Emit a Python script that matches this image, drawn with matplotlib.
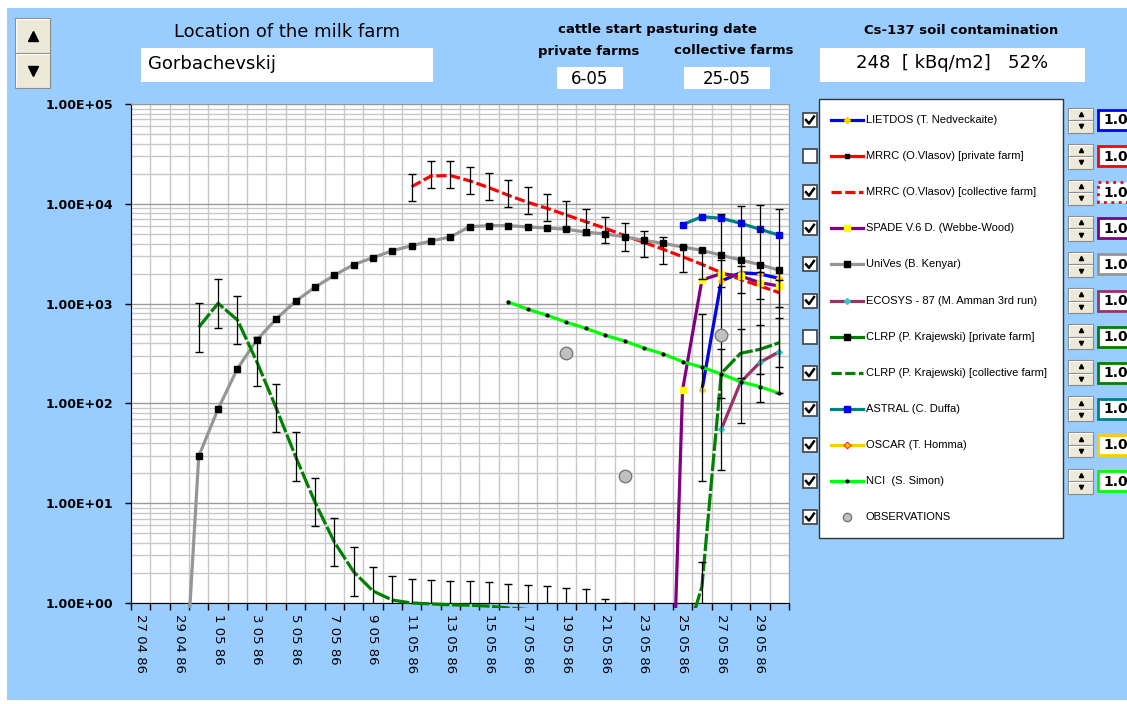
import numpy as np
import pandas as pd
import matplotlib
matplotlib.use("Agg")
import matplotlib.pyplot as plt
from matplotlib.patches import Rectangle
from matplotlib.ticker import FixedLocator, FuncFormatter, LogLocator, NullFormatter
from matplotlib.transforms import Bbox, TransformedBbox

# ---- data (category index 0 = 27 04 86, one category per day) ----
days = pd.date_range("1986-04-27", "1986-05-30")
day_labels = [f"{d.day} {d.month:02d} {d.year % 100}" for d in days]

unives_start = 2
unives = [0.015, 29.5, 88, 223, 432, 701, 1055, 1456, 1922, 2455, 2884, 3388, 3802,
          4236, 4645, 5900, 6040, 6040, 5860, 5724, 5560, 5210, 4980, 4680, 4300,
          4020, 3690, 3420, 3050, 2735, 2455, 2157]

mrrc_coll_start = 14
mrrc_coll = [14830, 19000, 19200, 17000, 14500, 12170, 10350, 9010, 7720, 6620,
             5690, 4800, 4110, 3500, 2950, 2476, 2040, 1752, 1500, 1287]
mrrc_err_lo = [10740, 14390, 14490, 12620, 10990, 9350, 7910, 6730, 5820, 4830,
               4020, 3390, 2910, 2475, 2060, 1763, 1476, 1268, 1112, 918]
mrrc_err_hi = [19900, 26850, 27040, 23550, 20510, 17340, 14730, 12540, 10670, 8870,
               7430, 6380, 5370, 4620, 3800, 3290, 2754, 2365, 2073, 1711]

clrp_coll_start = 3
clrp_coll = [579, 1007, 685, 262, 90, 29.5, 10.3, 4.1, 2.06, 1.32, 1.07, 1.0, 0.98,
             0.96, 0.95, 0.93, 0.89, 0.86, 0.84, 0.81, 0.79, 0.63, 0.57, 0.5, 0.45,
             0.33, 1.46, 200, 318, 348, 406]
clrp_err_factor = 1.75

nci_start = 19
nci = [1038, 877, 764, 650, 565, 481, 422, 359, 313, 262, 230, 197, 165, 147, 126]

astral_start = 28
astral = [6180, 7430, 7160, 6380, 5560, 4840]

lietdos_start = 29
lietdos = [136, 1683, 2040, 1980, 1790]

oscar_start = 29
oscar = [135, 1690, 2010, 2010, 1750]

spade_start = 27
spade = [0.0001, 136, 1723, 2000, 1890, 1620, 1500]

ecosys_start = 30
ecosys = [55, 163, 258, 330]

obs_days = [22, 25, 30]
obs = [320, 18.7, 484]

wide_err_days = [29, 30, 31, 32, 33]
wide_err_lo = [16.7, 21.5, 63, 103, 127]
wide_err_hi = [781, 7910, 9500, 9730, 8870]

legend_labels = ["LIETDOS (T. Nedveckaite)", "MRRC (O.Vlasov) [private farm]",
                 "MRRC (O.Vlasov) [collective farm]", "SPADE V.6 D. (Webbe-Wood)",
                 "UniVes (B. Kenyar)", "ECOSYS - 87 (M. Amman 3rd run)",
                 "CLRP (P. Krajewski) [private farm]", "CLRP (P. Krajewski) [collective farm]",
                 "ASTRAL (C. Duffa)", "OSCAR (T. Homma)", "NCI  (S. Simon)", "OBSERVATIONS"]
legend_checked = [True, False, True, True, True, True, False, True, True, True, True, True]
factor_colors = ["#0000FF", "#FF0000", "#FF0000", "#800080", "#969696", "#993366",
                 "#008000", "#008000", "#008080", "#FFCC00", "#00FF00"]

BLUE_BG = "#99CCFF"
LEG_FONT = ["Liberation Sans", "DejaVu Sans"]

# ---- figure and background ----
fig = plt.figure(figsize=(11.27, 7.04), dpi=100)
ov = fig.add_axes([0, 0, 1, 1], zorder=0)
ov.set_xlim(0, 1127)
ov.set_ylim(704, 0)
ov.axis("off")
ov.add_patch(Rectangle((7, 8), 1127, 692, fc=BLUE_BG, ec="none"))


def box(x0, y0, x1, y1, ec="none", lw=1, ls="-", fc="white"):
    ov.add_patch(Rectangle((x0, y0), x1 - x0, y1 - y0, fc=fc, ec=ec, lw=lw, ls=ls))


def button(x0, y0, x1, y1, up, ms):
    box(x0, y0, x1, y1, fc="#ECE9D8", ec="#8a8a8a", lw=0.8)
    ov.plot([x0 + 1, x0 + 1, x1 - 1], [y1 - 1, y0 + 1, y0 + 1], color="white", lw=0.8)
    ov.plot((x0 + x1) / 2, (y0 + y1) / 2, marker="^" if up else "v", ms=ms, color="black")


# top widgets
button(15, 18, 50, 53, True, 7)
button(15, 53, 50, 88, False, 7)
ov.text(287, 32, "Location of the milk farm", fontsize=13, ha="center", va="center")
box(141, 48, 433, 82)
ov.text(148, 64, "Gorbachevskij", fontsize=13, ha="left", va="center")

ov.text(657, 30, "cattle start pasturing date", fontsize=9.5, fontweight="bold",
        ha="center", va="center")
ov.text(589, 51, "private farms", fontsize=9.5, fontweight="bold", ha="center", va="center")
ov.text(734, 51, "collective farms", fontsize=9.5, fontweight="bold", ha="center", va="center")
box(557, 67, 623, 89)
box(684, 67, 770, 89)
ov.text(590, 79, "6-05", fontsize=12, ha="center", va="center")
ov.text(727, 79, "25-05", fontsize=12, ha="center", va="center")

ov.text(961, 30, "Cs-137 soil contamination", fontsize=9.5, fontweight="bold",
        ha="center", va="center")
box(820, 48, 1085, 82)
ov.text(952, 63, "248  [ kBq/m2]   52%", fontsize=13, ha="center", va="center")

# ---- main chart ----
ax = fig.add_axes([131 / 1127, 1 - 603 / 704, 658 / 1127, 499 / 704], zorder=2)
ax.set_yscale("log")
ax.set_ylim(1, 1e5)
ax.set_xlim(-0.5, len(days) - 0.5)

ax.yaxis.set_major_locator(LogLocator(base=10, numticks=10))
ax.yaxis.set_minor_locator(LogLocator(base=10, subs=np.arange(2, 10), numticks=20))
ax.yaxis.set_major_formatter(FuncFormatter(lambda v, p: f"{v:.2E}"))
ax.yaxis.set_minor_formatter(NullFormatter())
ax.tick_params(axis="y", which="major", length=4, width=1, pad=9, labelsize=9)
ax.tick_params(axis="y", which="minor", length=0)
for t in ax.get_yticklabels():
    t.set_fontweight("bold")

ax.xaxis.set_major_locator(FixedLocator(np.arange(-0.5, len(days), 1)))
ax.xaxis.set_major_formatter(NullFormatter())
ax.xaxis.set_minor_locator(FixedLocator(np.arange(0, len(days), 2)))
ax.set_xticklabels(day_labels[::2], minor=True, rotation=-90, fontsize=9.5)
ax.tick_params(axis="x", which="major", length=5, width=1, direction="out")
ax.tick_params(axis="x", which="minor", length=0, pad=8)

ax.xaxis.grid(True, which="major", color="#c8c8c8", lw=1)
ax.yaxis.grid(True, which="major", color="#9a9a9a", lw=1)
ax.yaxis.grid(True, which="minor", color="#c8c8c8", lw=1)
ax.set_axisbelow(True)
for side in ["top", "right"]:
    ax.spines[side].set_color("#999999")
for side in ["left", "bottom"]:
    ax.spines[side].set_color("black")

clip = TransformedBbox(Bbox([[0, -0.01], [1, 1]]), ax.transAxes)


def series(start, vals, **kw):
    x = np.arange(start, start + len(vals))
    line, = ax.plot(x, vals, zorder=3, **kw)
    line.set_clip_box(clip)
    return x


def err_bars(x, lo, hi):
    ax.vlines(x, lo, hi, color="black", lw=0.9, zorder=4)
    ax.plot(x, lo, ls="none", marker="_", ms=6, mew=1, color="black", zorder=4)
    ax.plot(x, hi, ls="none", marker="_", ms=6, mew=1, color="black", zorder=4)


LW = 2.3
series(oscar_start, oscar, color="#FFCC00", lw=LW, marker="D", ms=3,
       mfc="#FFCC00", mec="red", mew=0.6)
series(lietdos_start, lietdos, color="#0000FF", lw=LW, marker="D", ms=3,
       mfc="#FFCC00", mec="#FFCC00")
x_mrrc = series(mrrc_coll_start, mrrc_coll, color="#FF0000", lw=LW, dashes=(3.2, 1.1))
series(spade_start, spade, color="#800080", lw=LW, marker="s", ms=4.5,
       mfc="#FFFF00", mec="#FFFF00")
series(unives_start, unives, color="#969696", lw=LW, marker="s", ms=4.5,
       mfc="black", mec="black")
series(ecosys_start, ecosys, color="#993366", lw=LW, marker="D", ms=3,
       mfc="#33CCCC", mec="#33CCCC")
x_clrp = series(clrp_coll_start, clrp_coll, color="#008000", lw=LW, dashes=(5.5, 0.8))
series(astral_start, astral, color="#008080", lw=LW, marker="s", ms=5,
       mfc="#0000FF", mec="#0000FF")
series(nci_start, nci, color="#00FF00", lw=LW, marker="o", ms=2,
       mfc="black", mec="black")

err_bars(x_mrrc, mrrc_err_lo, mrrc_err_hi)
clrp_arr = np.array(clrp_coll)
err_bars(x_clrp, clrp_arr / clrp_err_factor, clrp_arr * clrp_err_factor)
err_bars(wide_err_days, wide_err_lo, wide_err_hi)

ax.plot(obs_days, obs, ls="none", marker="o", ms=9, mfc="#C0C0C0", mec="#7a7a7a",
        mew=1, zorder=6)

# ---- legend panel ----
box(819, 99, 1063, 538, ec="#333333", lw=1)
styles = [
    dict(color="#0000FF", marker="D", ms=3, mfc="#FFCC00", mec="#FFCC00"),
    dict(color="#FF0000", marker="s", ms=3, mfc="black", mec="black"),
    dict(color="#FF0000", dashes=(3.2, 1.1)),
    dict(color="#800080", marker="s", ms=4.5, mfc="#FFFF00", mec="#FFFF00"),
    dict(color="#969696", marker="s", ms=4, mfc="black", mec="black"),
    dict(color="#993366", marker="D", ms=3, mfc="#33CCCC", mec="#33CCCC"),
    dict(color="#008000", marker="s", ms=4, mfc="black", mec="black"),
    dict(color="#008000", dashes=(3.2, 1.1)),
    dict(color="#008080", marker="s", ms=4.5, mfc="#0000FF", mec="#0000FF"),
    dict(color="#FFCC00", marker="D", ms=3.5, mfc="#FFCC00", mec="red", mew=0.6),
    dict(color="#00FF00", marker="o", ms=2, mfc="black", mec="black"),
]
for k, label in enumerate(legend_labels):
    ry = 120 + 36.1 * k
    # checkbox
    box(803, ry - 7, 817, ry + 7, ec="#404040", lw=1.2)
    if legend_checked[k]:
        ov.plot([806, 809, 814], [ry, ry + 3.5, ry - 3.5], color="black", lw=1.8)
    # sample
    if k < len(styles):
        st = dict(styles[k])
        mk = {m: st.pop(m) for m in ["marker", "ms", "mfc", "mec", "mew"] if m in st}
        ov.plot([831, 863], [ry, ry], lw=LW, **st)
        if mk:
            ov.plot([847], [ry], ls="none", **mk)
    else:
        ov.plot([847], [ry], ls="none", marker="o", ms=6, mfc="#C0C0C0", mec="#7a7a7a")
    ov.text(866, ry, label, fontsize=8, family=LEG_FONT, ha="left", va="center")
    # spinner and factor box
    if k < len(factor_colors):
        button(1068, ry - 12.5, 1093, ry, True, 3)
        button(1068, ry, 1093, ry + 12.5, False, 3)
        ls = ":" if k == 2 else "-"
        box(1098, ry - 10, 1140, ry + 10, ec=factor_colors[k], lw=2, ls=ls)
        ov.text(1103, ry + 0.5, "1.0", fontsize=10, fontweight="bold", ha="left", va="center")

fig.savefig("out.png", dpi=100)
